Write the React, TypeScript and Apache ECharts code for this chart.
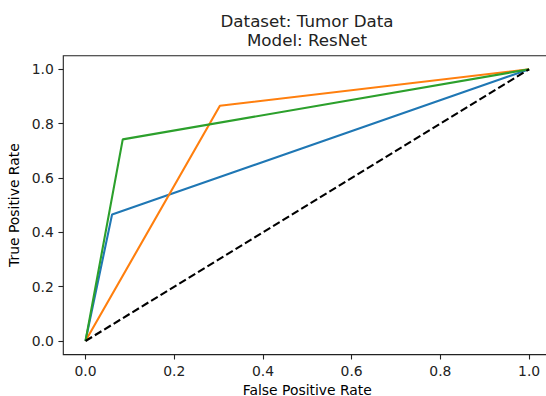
import React, { useEffect, useRef } from "react";
import * as echarts from "echarts";

const blueFpr = [0, 0.06, 1];
const blueTpr = [0, 0.466, 1];
const orangeFpr = [0, 0.303, 1];
const orangeTpr = [0, 0.866, 1];
const greenFpr = [0, 0.084, 1];
const greenTpr = [0, 0.742, 1];
const chanceFpr = [0, 1];
const chanceTpr = [0, 1];
const tickValues = [0, 0.2, 0.4, 0.6, 0.8, 1.0];

const titleText = "Dataset: Tumor Data\nModel: ResNet";
const xName = "False Positive Rate";
const yName = "True Positive Rate";

const FONT = "DejaVu Sans";

function pairs(xs: number[], ys: number[]) {
  return xs.map((x, i) => [x, ys[i]]);
}

export default function App() {
  const ref = useRef<HTMLDivElement>(null);
  useEffect(() => {
    document.body.style.margin = "0";
    const chart = echarts.init(ref.current!, null, { renderer: "svg" });
    const axisCommon = (name: string, gap: number) => ({
      type: "value" as const,
      min: -0.05,
      max: 1.05,
      name,
      nameLocation: "middle" as const,
      nameGap: gap,
      nameTextStyle: { fontFamily: FONT, fontSize: 13.9, color: "#000", lineHeight: 14 },
      axisLine: { show: false, onZero: false },
      axisTick: {
        show: true,
        customValues: tickValues,
        length: 4.9,
        lineStyle: { color: "#222", width: 1.1 },
      },
      axisLabel: {
        show: true,
        customValues: tickValues,
        margin: 9.5,
        fontFamily: FONT,
        fontSize: 13.9,
        color: "#222",
        formatter: (v: number) => v.toFixed(1),
      },
      splitLine: { show: false },
    });
    const lw = 2.1;
    chart.setOption({
      animation: false,
      backgroundColor: "#fff",
      title: {
        text: titleText,
        left: 307,
        top: 11.5,
        padding: 0,
        textAlign: "center",
        textStyle: {
          fontFamily: FONT,
          fontSize: 16.7,
          fontWeight: "normal",
          color: "#222",
          lineHeight: 19,
        },
      },
      grid: {
        left: 63.3,
        top: 55.7,
        width: 488,
        height: 298.9,
        containLabel: false,
        outerBoundsMode: "none",
        show: true,
        borderColor: "#222",
        borderWidth: 1.1,
        backgroundColor: "transparent",
      },
      xAxis: axisCommon(xName, 25),
      yAxis: axisCommon(yName, 39),
      series: [
        {
          type: "line",
          data: pairs(blueFpr, blueTpr),
          symbol: "none",
          lineStyle: { color: "#1f77b4", width: lw },
        },
        {
          type: "line",
          data: pairs(orangeFpr, orangeTpr),
          symbol: "none",
          lineStyle: { color: "#ff7f0e", width: lw },
        },
        {
          type: "line",
          data: pairs(greenFpr, greenTpr),
          symbol: "none",
          lineStyle: { color: "#2ca02c", width: lw },
        },
        {
          type: "line",
          data: pairs(chanceFpr, chanceTpr),
          symbol: "none",
          lineStyle: { color: "#000", width: lw, type: [7.7, 3.3] },
        },
      ],
    });
    return () => chart.dispose();
  }, []);
  return <div ref={ref} style={{ width: 546, height: 396 }} />;
}
